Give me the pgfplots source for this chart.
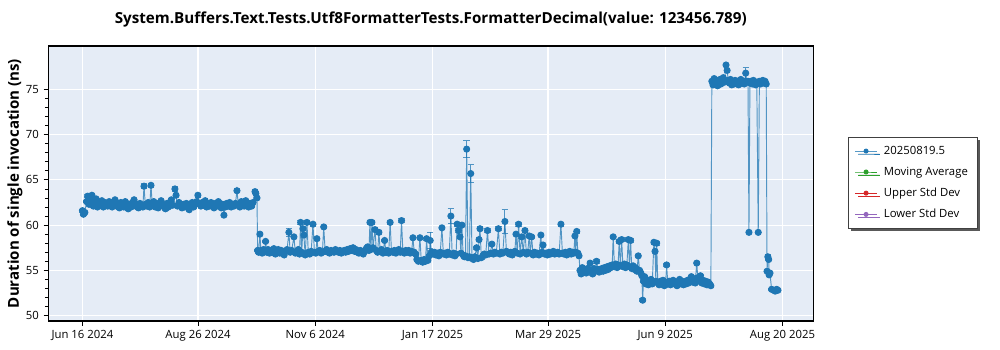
\documentclass[border=0pt]{standalone}
\usepackage{pgfplots}
\pgfplotsset{compat=1.18}
\usepackage{pgfplotstable}
\usepackage{fontspec}
\setmainfont{Open Sans}
\usetikzlibrary{shadows}
\definecolor{c0}{HTML}{1F77B4}
\definecolor{c1}{HTML}{2CA02C}
\definecolor{c2}{HTML}{D62728}
\definecolor{c3}{HTML}{9467BD}
\definecolor{bgc}{HTML}{E5ECF6}

\pgfplotstableread[row sep=\\]{
x y e\\
0 61.6 0.15\\ 0.6 61.2 0.15\\ 1.5 61.4 0.15\\ 2.5 62.6 0.15\\ 3.2 63.2 0.15\\ 4.0 62.3 0.15\\ 5.0 62.8 0.15\\ 5.8 63.3 0.15\\ 6.7 62.1 0.15\\ 7.5 62.5 0.15\\
8.4 62.9 0.15\\ 9.2 62.0 0.15\\ 10.1 62.4 0.15\\ 11.0 62.2 0.15\\ 11.9 62.7 0.15\\ 12.8 62.0 0.15\\ 13.7 62.5 0.15\\ 14.6 62.3 0.15\\ 15.5 62.1 0.15\\ 16.4 62.6 0.15\\
17.3 62.2 0.15\\ 18.2 62.0 0.15\\ 19.1 62.4 0.15\\ 20.0 62.8 0.15\\ 20.9 62.1 0.15\\ 21.8 62.3 0.15\\ 22.7 61.9 0.15\\ 23.6 62.5 0.15\\ 24.5 62.2 0.15\\ 25.4 62.0 0.15\\
26.3 62.6 0.15\\ 27.2 62.4 0.15\\ 28.1 61.8 0.15\\ 29.0 62.3 0.15\\ 29.9 62.0 0.15\\ 30.8 62.5 0.15\\ 31.7 62.8 0.15\\ 32.6 62.1 0.15\\ 33.5 62.3 0.15\\ 34.4 61.9 0.15\\
35.3 62.4 0.15\\ 36.2 62.2 0.15\\ 37.1 62.0 0.15\\ 37.8 64.3 0.25\\ 38.6 62.3 0.15\\ 39.5 62.1 0.15\\ 40.4 62.5 0.15\\ 41.3 62.0 0.15\\ 42.1 64.4 0.25\\ 42.9 62.2 0.15\\
43.8 62.6 0.15\\ 44.7 62.0 0.15\\ 45.6 62.4 0.15\\ 46.5 61.9 0.15\\ 47.4 62.3 0.15\\ 48.3 62.7 0.15\\ 49.2 62.1 0.15\\ 50.1 62.2 0.15\\ 51.0 61.8 0.15\\ 51.9 62.4 0.15\\
52.8 62.0 0.15\\ 53.7 62.5 0.15\\ 54.6 62.8 0.15\\ 55.5 62.2 0.15\\ 56.8 64.0 0.3\\ 57.5 63.3 0.15\\ 58.4 62.1 0.15\\ 59.3 62.5 0.15\\ 60.2 62.2 0.15\\ 61.1 61.9 0.15\\
62.0 62.3 0.15\\ 62.9 62.0 0.15\\ 63.8 62.4 0.15\\ 64.7 62.1 0.15\\ 65.6 61.7 0.15\\ 66.5 62.2 0.15\\ 67.4 62.5 0.15\\ 68.3 62.0 0.15\\ 69.2 62.3 0.15\\ 70.1 62.6 0.15\\
70.9 63.3 0.2\\ 71.8 62.4 0.15\\ 72.7 62.1 0.15\\ 73.6 62.5 0.15\\ 74.5 62.2 0.15\\ 75.4 62.7 0.15\\ 76.3 62.0 0.15\\ 77.2 62.3 0.15\\ 78.1 62.1 0.15\\ 79.0 62.5 0.15\\
79.9 62.2 0.15\\ 80.8 61.9 0.15\\ 81.7 62.4 0.15\\ 82.6 62.1 0.15\\ 83.5 62.6 0.15\\ 84.4 62.2 0.15\\ 85.3 61.9 0.15\\ 86.2 62.3 0.15\\ 86.9 61.1 0.15\\ 87.7 62.0 0.15\\
88.6 62.4 0.15\\ 89.5 62.1 0.15\\ 90.4 62.5 0.15\\ 91.3 62.0 0.15\\ 92.2 62.3 0.15\\ 93.1 62.1 0.15\\ 94.0 62.4 0.15\\ 94.9 63.8 0.2\\ 95.8 62.2 0.15\\ 96.7 62.0 0.15\\
97.6 62.6 0.15\\ 98.5 62.3 0.15\\ 99.4 62.1 0.15\\ 100.3 62.7 0.15\\ 101.2 62.2 0.15\\ 102.1 62.0 0.15\\ 103.0 62.4 0.15\\ 103.9 62.1 0.15\\ 104.8 62.5 0.15\\ 106.0 63.7 0.2\\
106.5 63.5 0.2\\ 107.2 63.0 0.15\\ 107.6 57.2 0.15\\
108.2 57.0 0.15\\ 109.0 59.0 0.2\\ 109.6 57.2 0.15\\ 110.4 56.9 0.15\\ 111.2 57.3 0.15\\ 112.0 57.1 0.15\\ 112.5 58.2 0.15\\ 113.2 57.0 0.15\\ 114.0 57.3 0.15\\ 114.9 56.9 0.15\\
115.8 57.2 0.15\\ 116.7 57.0 0.15\\ 117.6 57.4 0.15\\ 118.5 56.8 0.15\\ 119.4 57.1 0.15\\ 120.3 57.3 0.15\\ 121.2 56.9 0.15\\ 122.1 57.2 0.15\\ 123.0 57.0 0.15\\ 123.9 56.7 0.15\\
124.8 57.1 0.15\\ 125.7 57.3 0.15\\ 126.8 59.2 0.45\\ 127.6 57.0 0.15\\ 128.5 57.2 0.15\\ 129.9 58.7 0.2\\ 130.8 56.9 0.15\\ 131.7 57.1 0.15\\ 132.6 57.3 0.15\\ 133.3 56.8 0.15\\
134.0 60.3 0.2\\ 134.7 57.0 0.15\\ 135.4 59.6 0.2\\ 136.0 58.9 0.15\\ 136.8 56.7 0.15\\ 137.9 60.3 0.2\\ 138.7 57.0 0.15\\ 139.6 56.8 0.15\\ 140.5 57.1 0.15\\ 141.6 60.1 0.2\\
142.5 57.0 0.15\\ 143.3 56.9 0.15\\ 144.0 58.5 0.15\\ 144.8 57.1 0.15\\ 145.7 57.2 0.15\\ 146.6 56.9 0.15\\ 147.4 57.0 0.15\\ 148.2 59.8 0.2\\ 149.1 57.1 0.15\\ 150.0 57.3 0.15\\
150.9 57.0 0.15\\ 151.8 56.9 0.15\\ 152.7 57.2 0.15\\ 153.6 57.1 0.15\\ 154.5 57.0 0.15\\ 155.4 57.3 0.15\\ 156.3 57.1 0.15\\ 157.2 57.0 0.15\\ 158.1 57.2 0.15\\ 159.0 56.9 0.15\\
159.9 57.1 0.15\\ 160.8 57.2 0.15\\ 161.7 57.0 0.15\\ 162.6 57.3 0.15\\ 163.5 57.1 0.15\\ 164.4 57.4 0.15\\ 165.3 57.2 0.15\\ 166.2 57.5 0.15\\ 167.1 57.1 0.15\\ 168.0 57.3 0.15\\
168.9 57.0 0.15\\ 169.8 56.9 0.15\\ 170.7 57.2 0.15\\ 171.6 57.0 0.15\\ 172.5 56.8 0.15\\ 173.4 57.1 0.15\\ 174.3 57.4 0.15\\ 175.2 57.6 0.15\\ 176.0 57.2 0.15\\ 176.6 60.3 0.2\\
177.2 57.3 0.15\\ 177.8 60.3 0.2\\ 178.5 57.5 0.15\\ 179.7 59.5 0.2\\ 180.5 57.2 0.15\\ 181.3 57.0 0.15\\ 182.1 59.2 0.2\\ 182.9 57.1 0.15\\ 183.7 57.3 0.15\\ 184.6 56.9 0.15\\
185.6 58.3 0.15\\ 186.4 57.0 0.15\\ 187.2 57.2 0.15\\ 188.1 56.9 0.15\\ 189.0 60.3 0.2\\ 189.8 57.1 0.15\\ 190.7 57.0 0.15\\ 191.6 57.2 0.15\\ 192.5 56.9 0.15\\ 193.4 57.1 0.15\\
194.3 57.3 0.15\\ 195.2 57.0 0.15\\ 196.0 60.5 0.2\\ 196.8 57.1 0.15\\ 197.7 56.9 0.15\\ 198.6 57.2 0.15\\ 199.5 57.0 0.15\\ 200.4 57.2 0.15\\ 201.3 56.9 0.15\\ 202.2 57.1 0.15\\
203.0 58.6 0.15\\ 203.8 57.0 0.15\\ 204.6 56.8 0.15\\ 205.4 56.2 0.15\\ 206.3 56.0 0.15\\ 207.3 58.6 0.15\\ 208.1 56.1 0.15\\ 209.0 55.9 0.15\\ 209.9 56.2 0.15\\ 210.7 56.0 0.15\\
211.4 58.5 0.15\\ 212.2 56.1 0.15\\ 213.0 56.6 0.15\\ 213.6 58.3 0.9\\ 214.4 57.0 0.15\\ 215.3 56.8 0.15\\ 216.2 57.0 0.15\\ 217.1 56.7 0.15\\ 218.0 56.9 0.15\\ 218.9 56.6 0.15\\
219.8 57.0 0.15\\ 220.8 59.7 0.2\\ 221.7 56.8 0.15\\ 222.6 56.9 0.15\\ 223.5 56.7 0.15\\ 224.4 57.0 0.15\\ 225.3 56.8 0.15\\ 226.3 61.0 0.8\\ 227.1 56.7 0.15\\ 228.0 56.9 0.15\\
228.8 56.6 0.15\\ 229.5 56.8 0.15\\ 230.2 60.1 0.2\\ 231.0 59.4 0.2\\ 231.9 58.7 0.15\\ 232.5 56.9 0.15\\ 233.1 60.0 0.2\\ 233.8 56.7 0.15\\ 234.6 56.5 0.15\\ 235.3 56.6 0.15\\
236.0 68.4 0.95\\ 236.8 56.4 0.15\\ 237.7 56.5 0.15\\ 238.5 65.7 0.95\\ 239.3 56.3 0.15\\ 240.2 56.2 0.15\\ 241.0 56.5 0.15\\ 242.1 57.5 0.15\\ 242.9 56.3 0.15\\ 243.6 58.4 0.2\\
244.2 59.6 0.2\\ 245.0 56.4 0.15\\ 245.9 56.6 0.15\\ 246.8 56.8 0.15\\ 247.7 56.7 0.15\\ 248.8 59.4 0.2\\ 249.7 56.8 0.15\\ 250.6 56.9 0.15\\ 251.5 57.9 0.15\\ 252.4 56.8 0.15\\
253.3 57.0 0.15\\ 254.2 56.9 0.15\\ 255.5 59.6 0.2\\ 256.4 56.8 0.15\\ 257.3 57.0 0.15\\ 258.2 56.9 0.15\\ 259.5 60.4 1.3\\ 260.4 57.1 0.15\\ 261.3 57.0 0.15\\ 262.2 56.8 0.15\\
263.1 57.0 0.15\\ 264.0 56.7 0.15\\ 264.9 56.9 0.15\\ 265.6 57.1 0.15\\ 266.3 59.0 0.2\\ 267.1 56.9 0.15\\ 267.9 60.1 0.2\\ 268.8 56.8 0.15\\ 269.8 58.7 0.2\\ 270.8 57.0 0.15\\
271.8 59.4 0.2\\ 272.7 56.8 0.15\\ 273.5 57.0 0.15\\ 274.4 58.8 0.2\\ 275.1 56.9 0.15\\ 275.9 58.7 0.2\\ 276.8 56.7 0.15\\ 277.7 57.0 0.15\\ 278.6 56.8 0.15\\ 279.5 56.9 0.15\\
280.4 56.7 0.15\\ 281.6 58.9 0.2\\ 282.2 57.0 0.15\\ 282.9 57.8 0.15\\ 283.8 56.8 0.15\\ 284.7 56.9 0.15\\ 285.6 56.7 0.15\\ 286.5 57.0 0.15\\ 287.4 56.8 0.15\\ 288.3 56.9 0.15\\
289.2 57.1 0.15\\ 290.1 56.8 0.15\\ 291.0 56.9 0.15\\ 291.9 57.0 0.15\\ 292.8 56.8 0.15\\ 293.9 60.1 0.2\\ 294.8 56.9 0.15\\ 295.7 56.8 0.15\\ 296.6 57.0 0.15\\ 297.5 56.7 0.15\\
298.4 56.9 0.15\\ 299.3 57.1 0.15\\ 300.2 56.8 0.15\\ 301.1 57.0 0.15\\ 301.8 56.9 0.15\\ 302.5 58.8 0.2\\ 303.0 57.0 0.15\\ 303.6 59.3 0.2\\ 304.3 56.9 0.15\\ 305.0 56.6 0.15\\
305.6 55.0 0.15\\ 306.3 54.6 0.15\\ 307.0 55.3 0.15\\ 307.8 54.8 0.15\\ 308.6 55.1 0.15\\ 309.4 54.7 0.15\\ 310.2 55.2 0.15\\ 311.0 54.9 0.15\\ 311.8 55.8 0.2\\ 312.6 55.0 0.15\\
313.4 54.6 0.15\\ 314.2 55.2 0.15\\ 315.0 54.9 0.15\\ 315.8 56.0 0.2\\ 316.6 55.1 0.15\\ 317.4 54.8 0.15\\ 318.2 55.0 0.15\\ 319.0 55.2 0.15\\ 319.8 54.9 0.15\\ 320.6 55.3 0.15\\
321.4 55.0 0.15\\ 322.2 55.4 0.15\\ 323.0 55.1 0.15\\ 323.8 55.5 0.15\\ 324.6 55.3 0.15\\ 325.4 55.6 0.15\\ 326.0 58.7 0.2\\ 326.8 55.4 0.15\\ 327.6 55.7 0.15\\ 328.4 55.3 0.15\\
329.0 55.6 0.15\\ 329.7 58.2 0.2\\ 330.4 55.5 0.15\\ 331.2 58.4 0.2\\ 332.0 55.4 0.15\\ 332.8 55.7 0.15\\ 333.6 55.3 0.15\\ 334.4 55.6 0.15\\ 335.3 58.4 0.2\\ 336.0 55.4 0.15\\
336.7 58.3 0.2\\ 337.4 55.2 0.15\\ 338.2 55.5 0.15\\ 339.0 55.1 0.15\\ 339.8 55.3 0.15\\ 340.6 54.9 0.15\\ 341.4 56.6 0.2\\ 342.2 55.0 0.15\\ 343.0 54.7 0.15\\ 343.6 54.4 0.15\\
344.1 51.7 0.15\\ 344.6 53.8 0.15\\ 345.3 54.3 0.15\\ 346.0 53.5 0.15\\ 346.8 53.9 0.15\\ 347.6 53.4 0.15\\ 348.4 53.7 0.15\\ 349.2 54.0 0.15\\ 350.0 53.5 0.15\\ 351.0 58.1 0.2\\
351.7 57.1 0.15\\ 352.2 53.8 0.15\\ 352.7 58.0 0.2\\ 353.4 53.6 0.15\\ 354.2 53.4 0.15\\ 355.0 53.8 0.15\\ 355.8 53.5 0.15\\ 356.6 53.9 0.15\\ 357.4 53.3 0.15\\ 358.2 53.7 0.15\\
358.8 55.6 0.2\\ 359.6 53.5 0.15\\ 360.4 53.8 0.15\\ 361.2 53.4 0.15\\ 362.0 53.6 0.15\\ 362.8 53.9 0.15\\ 363.6 53.5 0.15\\ 364.4 53.7 0.15\\ 365.2 53.3 0.15\\ 366.0 53.6 0.15\\
366.8 54.0 0.15\\ 367.6 53.5 0.15\\ 368.4 53.8 0.15\\ 369.2 53.4 0.15\\ 370.0 53.7 0.15\\ 370.8 53.5 0.15\\ 371.6 53.9 0.15\\ 372.4 53.6 0.15\\ 373.2 54.0 0.15\\ 374.0 54.3 0.15\\
374.8 53.7 0.15\\ 375.6 54.0 0.15\\ 376.4 53.6 0.15\\ 377.3 55.8 0.2\\ 378.0 54.2 0.15\\ 378.8 53.8 0.15\\ 379.6 54.4 0.15\\ 380.4 53.6 0.15\\ 381.2 53.9 0.15\\ 382.0 53.5 0.15\\
382.8 53.8 0.15\\ 383.6 53.4 0.15\\ 384.4 53.7 0.15\\ 385.2 53.5 0.15\\ 386.0 53.3 0.15\\ 386.6 75.9 0.15\\ 387.3 75.5 0.15\\ 388.0 76.2 0.15\\ 388.7 75.7 0.15\\ 389.4 76.0 0.15\\
390.1 75.4 0.15\\ 390.8 75.9 0.15\\ 391.5 76.1 0.15\\ 392.2 75.6 0.15\\ 392.9 75.9 0.15\\ 393.6 76.3 0.15\\ 394.3 75.8 0.15\\ 395.3 77.7 0.2\\ 396.0 77.1 0.2\\ 396.7 76.0 0.15\\
397.4 75.7 0.15\\ 398.1 76.1 0.15\\ 398.8 75.5 0.15\\ 399.5 75.8 0.15\\ 400.2 75.6 0.15\\ 400.9 76.0 0.15\\ 401.6 75.7 0.15\\ 402.3 75.9 0.15\\ 403.0 75.5 0.15\\ 403.7 75.8 0.15\\
404.4 76.1 0.15\\ 405.1 75.7 0.15\\ 405.8 75.9 0.15\\ 406.5 75.6 0.15\\ 407.4 76.8 0.6\\ 408.1 75.8 0.15\\ 408.8 75.9 0.15\\ 409.4 59.2 0.15\\ 410.0 75.7 0.15\\ 410.7 75.9 0.15\\
411.4 75.6 0.15\\ 412.1 76.0 0.15\\ 412.8 75.7 0.15\\ 413.5 75.5 0.15\\ 414.2 75.8 0.15\\ 415.1 59.2 0.15\\ 415.8 75.9 0.15\\ 416.5 75.6 0.15\\ 417.2 75.8 0.15\\ 417.9 76.0 0.15\\
418.6 75.7 0.15\\ 419.3 75.9 0.15\\ 420.0 75.6 0.15\\ 420.5 54.9 0.15\\ 421.0 56.5 0.2\\ 421.5 56.2 0.15\\ 421.8 54.5 0.15\\ 422.3 54.7 0.15\\ 423.3 52.9 0.15\\ 424.5 52.8 0.15\\
425.5 52.7 0.15\\ 426.4 52.9 0.15\\ 427.2 52.8 0.15\\
}\mydata

\begin{document}
\begin{tikzpicture}
\useasboundingbox (-36.2pt,-21.75pt) rectangle (713.8pt,240.75pt);
\begin{axis}[
  at={(0,0)}, anchor=south west,
  scale only axis, width=573.75pt, height=206.25pt,
  xmin=-21, xmax=448.9, ymin=49.4, ymax=79.8,
  axis background/.style={fill=bgc},
  axis line style={black, line width=0.8pt},
  grid=major, major grid style={white, line width=0.9pt},
  xtick={0,71,143,215,286,358,430},
  xticklabels={Jun 16 2024,Aug 26 2024,Nov 6 2024,Jan 17 2025,Mar 29 2025,Jun 9 2025,Aug 20 2025},
  ytick={50,55,60,65,70,75},
  minor y tick num=4,
  xtick pos=bottom, ytick pos=left,
  tick align=outside,
  major tick length=3.5pt, minor tick length=2.5pt,
  tick style={black, line width=0.6pt},
  /pgf/number format/assume math mode=true,
  ticklabel style={font=\fontsize{8.5}{10}\selectfont},
  title={System.Buffers.Text.Tests.Utf8FormatterTests.FormatterDecimal(value: 123456.789)},
  title style={font=\fontsize{11.4}{13}\selectfont\bfseries, at={(0.5,1)}, anchor=center, yshift=13.5pt},
  ylabel={Duration of single invocation (ns)},
  ylabel style={font=\fontsize{11.3}{13}\selectfont\bfseries, at={(axis description cs:-0.0436,0.5)}, anchor=center},
  legend style={at={(rel axis cs:1.0454,0.669)}, anchor=north west, draw=black!75, fill=white,
    font=\fontsize{8.5}{10}\selectfont, row sep=4pt, inner xsep=5pt, inner ysep=4.5pt,
    drop shadow={shadow xshift=2.2pt, shadow yshift=-2.2pt, fill=black!65, opacity=1},
    legend cell align=left,
    /tikz/every odd column/.append style={column sep=3pt}},
  legend image code/.code={\draw[#1, line width=0.7pt, mark size=1.5pt, mark repeat=2, mark phase=2] plot coordinates {(0pt,0pt) (8pt,0pt) (16pt,0pt)};},
]
\addplot[color=c0, line width=0.7pt, draw opacity=0.75, mark=*, mark size=2.3pt, mark options={fill=c0, draw=c0, draw opacity=1, fill opacity=1},
  error bars/.cd, y dir=both, y explicit,
  error bar style={c0, line width=0.7pt, opacity=0.75},
  error mark options={rotate=90, c0, mark size=2.4pt, line width=0.7pt, opacity=0.75}]
  table[x=x, y=y, y error=e] {\mydata};
\addlegendentry{20250819.5}
\addlegendimage{color=c1, mark=*, mark options={fill=c1}}
\addlegendentry{Moving Average}
\addlegendimage{color=c2, mark=*, mark options={fill=c2}}
\addlegendentry{Upper Std Dev}
\addlegendimage{color=c3, mark=*, mark options={fill=c3}}
\addlegendentry{Lower Std Dev}
\end{axis}
\end{tikzpicture}
\end{document}
